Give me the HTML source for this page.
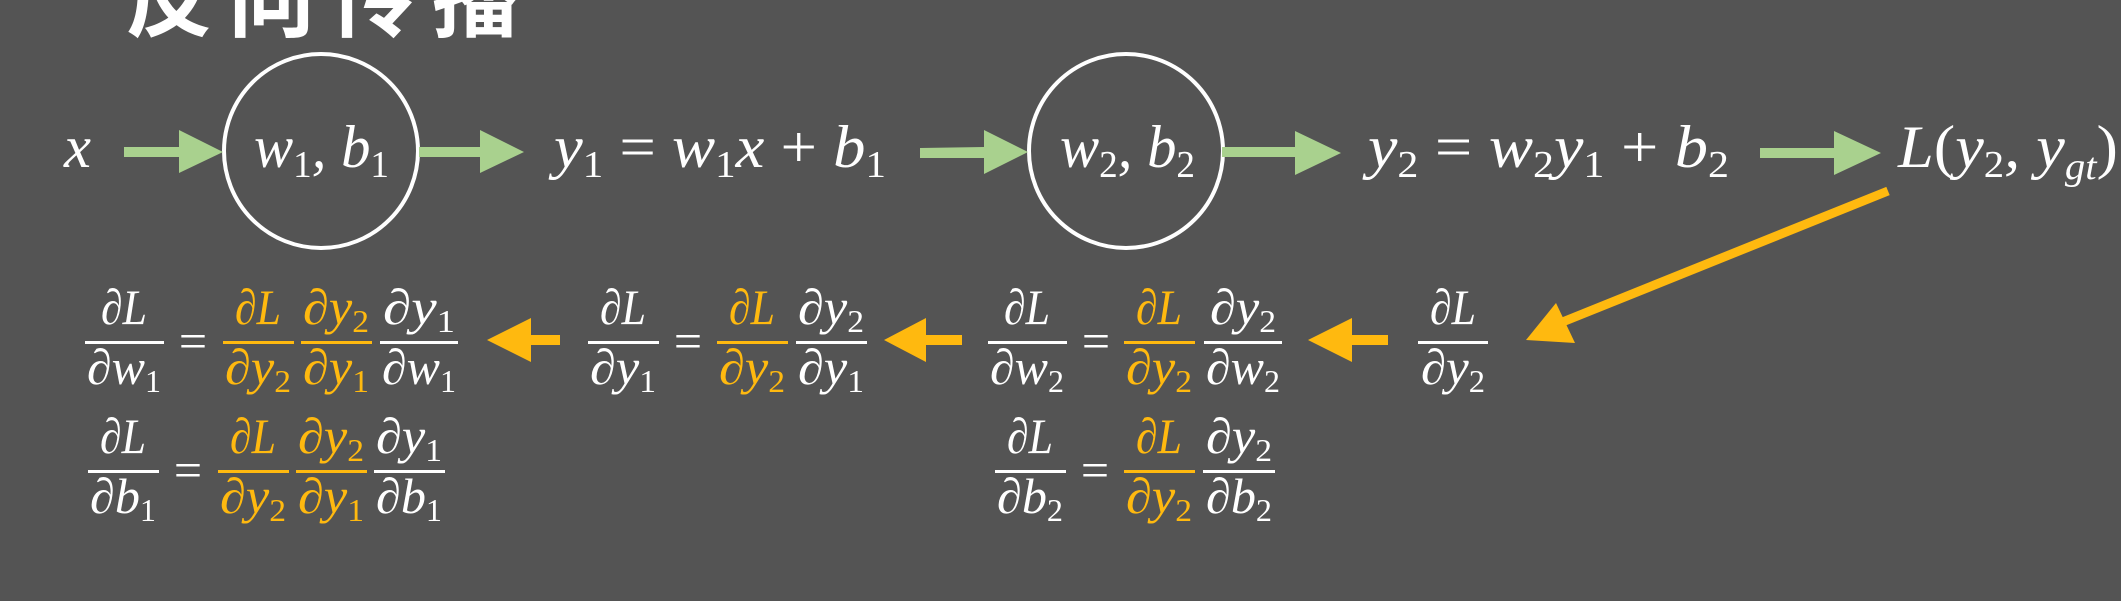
<!DOCTYPE html>
<html><head><meta charset="utf-8"><style>
html,body{margin:0;padding:0;background:#545454;}
svg{display:block;}
</style></head><body>
<svg width="2121" height="601" viewBox="0 0 2121 601" xmlns="http://www.w3.org/2000/svg">
<rect width="2121" height="601" fill="#545454"/>
<text x="125" y="30" font-family="'Noto Sans CJK SC','WenQuanYi Zen Hei',sans-serif" font-weight="bold" font-size="88" fill="#fff" textLength="395" lengthAdjust="spacing">反向传播</text>

<g font-family="'Liberation Serif',serif" font-style="italic" fill="#fff" font-size="60">
<text x="64" y="167" textLength="27" lengthAdjust="spacingAndGlyphs">x</text>
<text x="254" y="167" textLength="135" lengthAdjust="spacingAndGlyphs">w<tspan font-size="38" dy="10" font-style="normal">1</tspan><tspan dy="-10">, b</tspan><tspan font-size="38" dy="10" font-style="normal">1</tspan></text>
<text x="554" y="167" textLength="332" lengthAdjust="spacingAndGlyphs">y<tspan font-size="38" dy="10" font-style="normal">1</tspan><tspan dy="-10" font-style="normal"> = </tspan>w<tspan font-size="38" dy="10" font-style="normal">1</tspan><tspan dy="-10">x</tspan><tspan font-style="normal"> + </tspan>b<tspan font-size="38" dy="10" font-style="normal">1</tspan></text>
<text x="1060" y="167" textLength="135" lengthAdjust="spacingAndGlyphs">w<tspan font-size="38" dy="10" font-style="normal">2</tspan><tspan dy="-10">, b</tspan><tspan font-size="38" dy="10" font-style="normal">2</tspan></text>
<text x="1368" y="167" textLength="361" lengthAdjust="spacingAndGlyphs">y<tspan font-size="38" dy="10" font-style="normal">2</tspan><tspan dy="-10" font-style="normal"> = </tspan>w<tspan font-size="38" dy="10" font-style="normal">2</tspan><tspan dy="-10">y</tspan><tspan font-size="38" dy="10" font-style="normal">1</tspan><tspan dy="-10" font-style="normal"> + </tspan>b<tspan font-size="38" dy="10" font-style="normal">2</tspan></text>
<text x="1898" y="167" textLength="220" lengthAdjust="spacingAndGlyphs">L<tspan font-style="normal">(</tspan>y<tspan font-size="38" dy="10" font-style="normal">2</tspan><tspan dy="-10">, y</tspan><tspan font-size="38" dy="12">gt</tspan><tspan dy="-12" font-style="normal">)</tspan></text>
</g>

<g fill="none" stroke="#fff" stroke-width="4">
<ellipse cx="321" cy="151" rx="97" ry="97"/>
<ellipse cx="1126" cy="151" rx="97" ry="97"/>
</g>

<g fill="#A9D18E">
<polygon points="124,147 179,147 179,130 223,152 179,173 179,157 124,157"/>
<polygon points="419,147 480,147 480,130 524,152 480,173 480,157 419,157"/>
<polygon points="920,148 984,147 984,130 1028,152 984,174 984,158 920,158"/>
<polygon points="1222,147 1295,147 1295,131 1341,153 1295,175 1295,157 1222,157"/>
<polygon points="1760,148 1834,148 1834,131 1881,153 1834,175 1834,158 1760,158"/>
</g>

<g fill="#FFB90F">
<polygon points="487,340 531,318 531,335 560,335 560,345 531,345 531,362"/>
<polygon points="884,340 926,318 926,335 962,335 962,345 926,345 926,362"/>
<polygon points="1308,340 1352,318 1352,335 1388,335 1388,345 1352,345 1352,362"/>
<line x1="1888" y1="191" x2="1560" y2="323" stroke="#FFB90F" stroke-width="9"/>
<polygon points="1526,340 1556,303 1575,343"/>
</g>

<g font-family="'Liberation Serif',serif" font-style="italic" font-size="50" text-anchor="middle">
<g fill="#fff">
<rect x="85" y="341" width="79" height="3"/>
<text x="124" y="324" textLength="46" lengthAdjust="spacingAndGlyphs">∂L</text>
<text x="124" y="384" textLength="74" lengthAdjust="spacingAndGlyphs">∂w<tspan font-size="32" dy="8" font-style="normal">1</tspan></text>
<text x="193" y="358" font-style="normal" font-size="50">=</text>
<rect x="380" y="341" width="78" height="3"/>
<text x="419" y="324" textLength="72" lengthAdjust="spacingAndGlyphs">∂y<tspan font-size="32" dy="8" font-style="normal">1</tspan></text>
<text x="419" y="384" textLength="74" lengthAdjust="spacingAndGlyphs">∂w<tspan font-size="32" dy="8" font-style="normal">1</tspan></text>

<rect x="588" y="341" width="71" height="3"/>
<text x="623" y="324" textLength="46" lengthAdjust="spacingAndGlyphs">∂L</text>
<text x="623" y="384" textLength="66" lengthAdjust="spacingAndGlyphs">∂y<tspan font-size="32" dy="8" font-style="normal">1</tspan></text>
<text x="688" y="358" font-style="normal" font-size="50">=</text>
<rect x="796" y="341" width="71" height="3"/>
<text x="831" y="324" textLength="66" lengthAdjust="spacingAndGlyphs">∂y<tspan font-size="32" dy="8" font-style="normal">2</tspan></text>
<text x="831" y="384" textLength="66" lengthAdjust="spacingAndGlyphs">∂y<tspan font-size="32" dy="8" font-style="normal">1</tspan></text>

<rect x="988" y="341" width="79" height="3"/>
<text x="1027" y="324" textLength="46" lengthAdjust="spacingAndGlyphs">∂L</text>
<text x="1027" y="384" textLength="74" lengthAdjust="spacingAndGlyphs">∂w<tspan font-size="32" dy="8" font-style="normal">2</tspan></text>
<text x="1096" y="358" font-style="normal" font-size="50">=</text>
<rect x="1204" y="341" width="78" height="3"/>
<text x="1243" y="324" textLength="66" lengthAdjust="spacingAndGlyphs">∂y<tspan font-size="32" dy="8" font-style="normal">2</tspan></text>
<text x="1243" y="384" textLength="74" lengthAdjust="spacingAndGlyphs">∂w<tspan font-size="32" dy="8" font-style="normal">2</tspan></text>

<rect x="1418" y="341" width="70" height="3"/>
<text x="1453" y="324" textLength="46" lengthAdjust="spacingAndGlyphs">∂L</text>
<text x="1453" y="384" textLength="64" lengthAdjust="spacingAndGlyphs">∂y<tspan font-size="32" dy="8" font-style="normal">2</tspan></text>
</g>
<g fill="#FFB90F">
<rect x="223" y="341" width="71" height="3"/>
<text x="258" y="324" textLength="46" lengthAdjust="spacingAndGlyphs">∂L</text>
<text x="258" y="384" textLength="66" lengthAdjust="spacingAndGlyphs">∂y<tspan font-size="32" dy="8" font-style="normal">2</tspan></text>
<rect x="301" y="341" width="71" height="3"/>
<text x="336" y="324" textLength="66" lengthAdjust="spacingAndGlyphs">∂y<tspan font-size="32" dy="8" font-style="normal">2</tspan></text>
<text x="336" y="384" textLength="66" lengthAdjust="spacingAndGlyphs">∂y<tspan font-size="32" dy="8" font-style="normal">1</tspan></text>
<rect x="717" y="341" width="71" height="3"/>
<text x="752" y="324" textLength="46" lengthAdjust="spacingAndGlyphs">∂L</text>
<text x="752" y="384" textLength="66" lengthAdjust="spacingAndGlyphs">∂y<tspan font-size="32" dy="8" font-style="normal">2</tspan></text>
<rect x="1124" y="341" width="71" height="3"/>
<text x="1159" y="324" textLength="46" lengthAdjust="spacingAndGlyphs">∂L</text>
<text x="1159" y="384" textLength="66" lengthAdjust="spacingAndGlyphs">∂y<tspan font-size="32" dy="8" font-style="normal">2</tspan></text>
</g>

<g fill="#fff">
<rect x="88" y="470" width="71" height="3"/>
<text x="123" y="453" textLength="46" lengthAdjust="spacingAndGlyphs">∂L</text>
<text x="123" y="513" textLength="66" lengthAdjust="spacingAndGlyphs">∂b<tspan font-size="32" dy="8" font-style="normal">1</tspan></text>
<text x="188" y="487" font-style="normal" font-size="50">=</text>
<rect x="374" y="470" width="71" height="3"/>
<text x="409" y="453" textLength="66" lengthAdjust="spacingAndGlyphs">∂y<tspan font-size="32" dy="8" font-style="normal">1</tspan></text>
<text x="409" y="513" textLength="66" lengthAdjust="spacingAndGlyphs">∂b<tspan font-size="32" dy="8" font-style="normal">1</tspan></text>

<rect x="995" y="470" width="71" height="3"/>
<text x="1030" y="453" textLength="46" lengthAdjust="spacingAndGlyphs">∂L</text>
<text x="1030" y="513" textLength="66" lengthAdjust="spacingAndGlyphs">∂b<tspan font-size="32" dy="8" font-style="normal">2</tspan></text>
<text x="1095" y="487" font-style="normal" font-size="50">=</text>
<rect x="1203" y="470" width="72" height="3"/>
<text x="1239" y="453" textLength="66" lengthAdjust="spacingAndGlyphs">∂y<tspan font-size="32" dy="8" font-style="normal">2</tspan></text>
<text x="1239" y="513" textLength="66" lengthAdjust="spacingAndGlyphs">∂b<tspan font-size="32" dy="8" font-style="normal">2</tspan></text>
</g>
<g fill="#FFB90F">
<rect x="218" y="470" width="71" height="3"/>
<text x="253" y="453" textLength="46" lengthAdjust="spacingAndGlyphs">∂L</text>
<text x="253" y="513" textLength="66" lengthAdjust="spacingAndGlyphs">∂y<tspan font-size="32" dy="8" font-style="normal">2</tspan></text>
<rect x="296" y="470" width="71" height="3"/>
<text x="331" y="453" textLength="66" lengthAdjust="spacingAndGlyphs">∂y<tspan font-size="32" dy="8" font-style="normal">2</tspan></text>
<text x="331" y="513" textLength="66" lengthAdjust="spacingAndGlyphs">∂y<tspan font-size="32" dy="8" font-style="normal">1</tspan></text>
<rect x="1124" y="470" width="71" height="3"/>
<text x="1159" y="453" textLength="46" lengthAdjust="spacingAndGlyphs">∂L</text>
<text x="1159" y="513" textLength="66" lengthAdjust="spacingAndGlyphs">∂y<tspan font-size="32" dy="8" font-style="normal">2</tspan></text>
</g>
</g>
</svg>
</body></html>
